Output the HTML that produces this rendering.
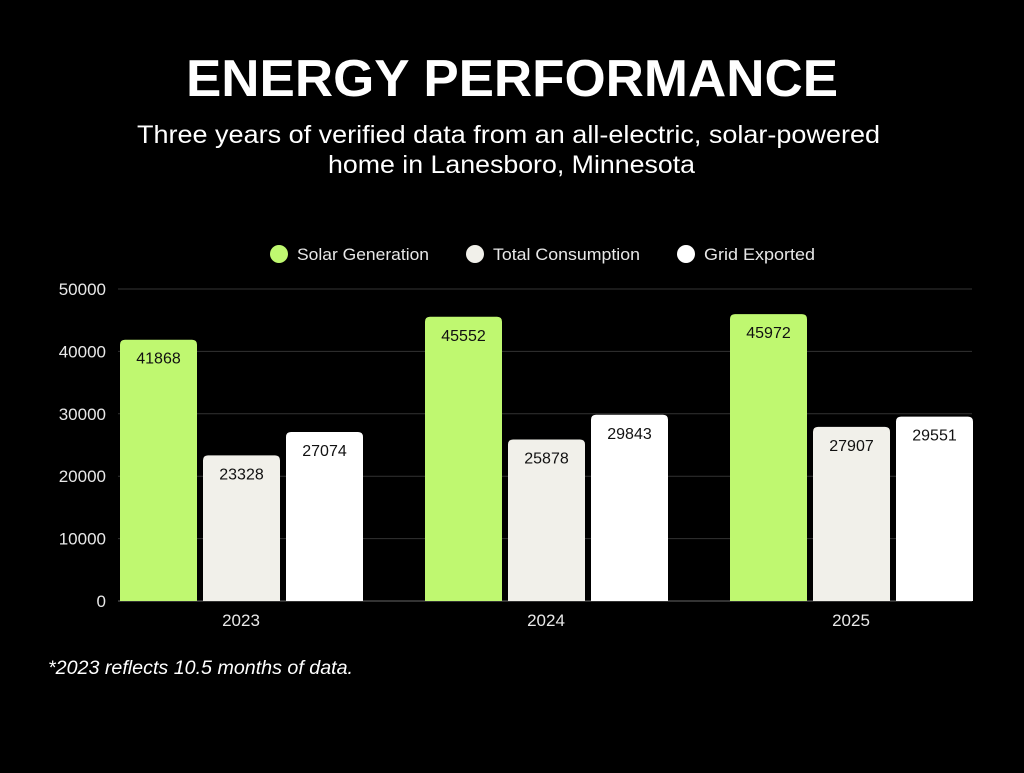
<!DOCTYPE html>
<html><head><meta charset="utf-8"><style>
body{margin:0;background:#000;width:1024px;height:768px;overflow:hidden;font-family:"Liberation Sans",sans-serif;}
</style></head><body>
<svg width="1024" height="768" id="chart">
<rect width="1024" height="768" fill="#000"/>
<text x="186" y="96" fill="#fff" font-size="52" font-weight="900" textLength="652" lengthAdjust="spacingAndGlyphs">ENERGY PERFORMANCE</text>
<text x="137" y="143" fill="#fff" font-size="25" textLength="743" lengthAdjust="spacingAndGlyphs">Three years of verified data from an all-electric, solar-powered</text>
<text x="328" y="173" fill="#fff" font-size="25" textLength="367" lengthAdjust="spacingAndGlyphs">home in Lanesboro, Minnesota</text>
<g>
<circle cx="279" cy="254" r="9" fill="#bff870"/>
<text x="297" y="260" fill="#e8e8e8" font-size="17" textLength="132" lengthAdjust="spacingAndGlyphs">Solar Generation</text>
<circle cx="475" cy="254" r="9" fill="#f1f0ea"/>
<text x="493" y="260" fill="#e8e8e8" font-size="17" textLength="147" lengthAdjust="spacingAndGlyphs">Total Consumption</text>
<circle cx="686" cy="254" r="9" fill="#fff"/>
<text x="704" y="260" fill="#e8e8e8" font-size="17" textLength="111" lengthAdjust="spacingAndGlyphs">Grid Exported</text>
</g>
<g id="grid"></g><g id="bars"></g>
<text x="48" y="674" fill="#fff" font-size="19" font-style="italic" textLength="305" lengthAdjust="spacingAndGlyphs">*2023 reflects 10.5 months of data.</text>
</svg>
<script>
const categories=["2023","2024","2025"];
const solar=[41868,45552,45972];
const consumption=[23328,25878,27907];
const exported=[27074,29843,29551];
const yTicks=[0,10000,20000,30000,40000,50000];
const NS="http://www.w3.org/2000/svg";
const y=v=>601-v*312/50000;
const cx=i=>241+305*i;
const g=document.getElementById('grid'),b=document.getElementById('bars');
function mk(tag,attrs,parent){const e=document.createElementNS(NS,tag);for(const k in attrs)e.setAttribute(k,attrs[k]);parent.appendChild(e);return e;}
yTicks.forEach(t=>{
 const l=mk('line',{x1:118,x2:972,y1:y(t),y2:y(t),stroke:t===0?'#666':'#333','stroke-width':1},g);
 
 
 const tx=mk('text',{x:106,y:y(t)+6,'text-anchor':'end',fill:'#e8e8e8','font-size':17},g);
 
 
 tx.textContent=t;
});
const series=[[solar,'#bff870','solar'],[consumption,'#f1f0ea','consumption'],[exported,'#ffffff','exported']];
categories.forEach((c,i)=>{
 series.forEach((s,j)=>{
  const v=s[0][i],x=cx(i)-121+j*83,w=77,top=y(v),r=5;
  const p=mk('path',{d:`M${x},601V${top+r}Q${x},${top} ${x+r},${top}H${x+w-r}Q${x+w},${top} ${x+w},${top+r}V601Z`,fill:s[1]},b);
  
  
  const t=mk('text',{x:x+w/2,y:top+24,'text-anchor':'middle',fill:'#111','font-size':16},b);
  
  
  t.textContent=v;
 });
 const xl=mk('text',{x:cx(i),y:626,'text-anchor':'middle',fill:'#e8e8e8','font-size':17},b);
 
 
 xl.textContent=c;
});
</script>
</body></html>
